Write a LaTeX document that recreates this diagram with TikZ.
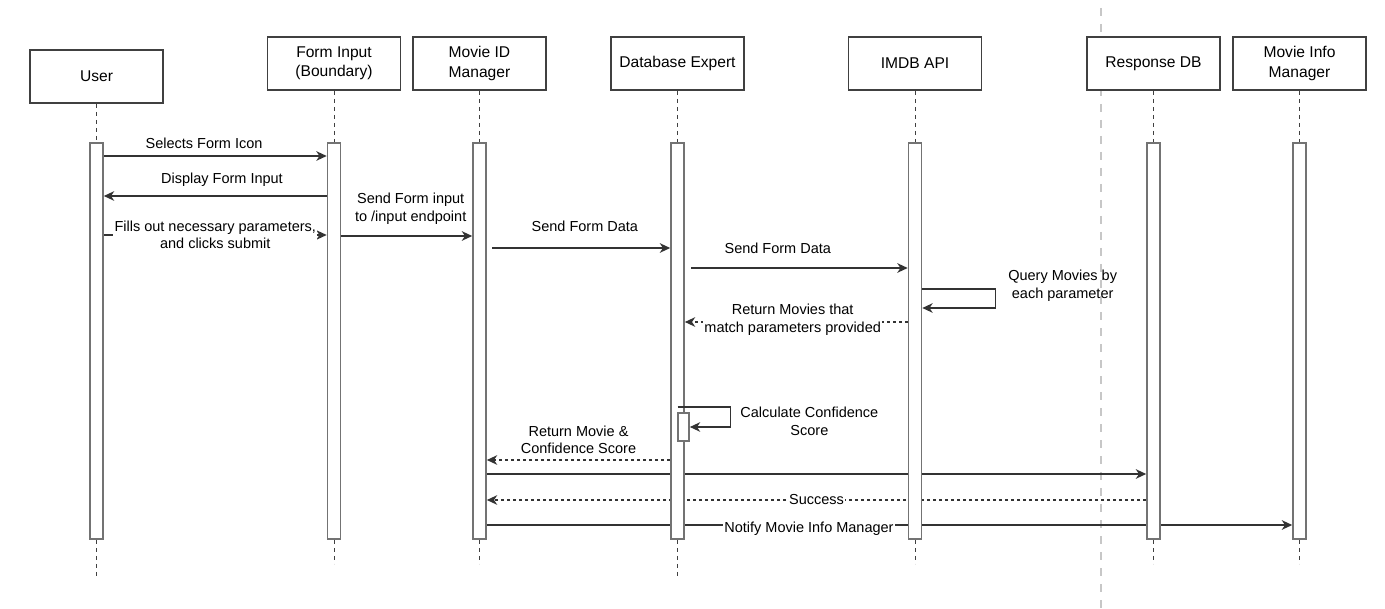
\documentclass[tikz,border=0pt]{standalone}
\usepackage{fontspec}
\setmainfont{Liberation Sans}
\usetikzlibrary{arrows.meta,backgrounds}
\tikzset{>={Stealth[length=5.2pt,width=4.8pt,inset=1.6pt]}}
\tikzset{
  actor/.style={draw=black!75,line width=0.9pt,fill=white,minimum width=66.5pt,
    minimum height=26.5pt,align=center,inner sep=1pt,
    font=\fontsize{7.8}{9.6}\selectfont},
  bar/.style={draw=black!55,line width=0.8pt,fill=white,minimum width=6.5pt,
    minimum height=198pt,inner sep=0pt},
  lifeline/.style={draw=black!75,line width=0.5pt,dash pattern=on 2pt off 2pt},
  call/.style={->,draw=black!80,line width=0.75pt},
  reply/.style={->,draw=black!80,line width=0.75pt,dash pattern=on 1.5pt off 1.5pt},
  msg/.style={font=\fontsize{7.25}{8.8}\selectfont,align=center,inner sep=0.6pt},
  onmsg/.style={msg,fill=white},
  sep line/.style={draw=black!22,line width=0.6pt,dash pattern=on 4pt off 4pt},
}

\begin{document}
\begin{tikzpicture}[x=0.5pt,y=-0.5pt]
\useasboundingbox (0,0) rectangle (1385,609);

% participants
\node [actor] at (96.5,76.5) (user) {User};
\node [actor] at (334,63.5) (form) {Form Input\\(Boundary)};
\node [actor] at (479.5,63.5) (idmgr) {Movie ID\\Manager};
\node [actor] at (677.5,63.5) (dbexp) {Database Expert};
\node [actor] at (915,63.5) (imdb) {IMDB API};
\node [actor] at (1153.5,63.5) (respdb) {Response DB};
\node [actor] at (1299.5,63.5) (infomgr) {Movie Info\\Manager};

% activation bars
\coordinate (barrow) at (0,341);
\node [bar] at (user |- barrow) (userBar) {};
\node [bar] at (form |- barrow) (formBar) {};
\node [bar] at (idmgr |- barrow) (idBar) {};
\node [bar] at (dbexp |- barrow) (dbBar) {};
\node [bar] at (imdb |- barrow) (imdbBar) {};
\node [bar] at (respdb |- barrow) (respBar) {};
\node [bar] at (infomgr |- barrow) (infoBar) {};

% message rows
\coordinate (r1) at (0,156);
\coordinate (r2) at (0,196);
\coordinate (r3) at (0,235);
\coordinate (r4) at (0,236);
\coordinate (r5) at (0,248);
\coordinate (r6) at (0,268);
\coordinate (r7) at (0,289);
\coordinate (r8) at (0,322);
\coordinate (r9) at (0,407);
\coordinate (r10) at (0,460);
\coordinate (r11) at (0,474);
\coordinate (r12) at (0,500);
\coordinate (r13) at (0,525);

\begin{pgfonlayer}{background}
\draw [sep line] (1101,8) -- (1101,609);

\foreach \a/\b in {user/userBar,form/formBar,idmgr/idBar,dbexp/dbBar,imdb/imdbBar,respdb/respBar,infomgr/infoBar}
  \draw [lifeline] (\a.south) -- (\b.north);
\draw [lifeline] (userBar.south) -- ++(0,36);
\draw [lifeline] (formBar.south) -- ++(0,24);
\draw [lifeline] (idBar.south) -- ++(0,24);
\draw [lifeline] (dbBar.south) -- ++(0,39);
\draw [lifeline] (imdbBar.south) -- ++(0,24);
\draw [lifeline] (respBar.south) -- ++(0,24);
\draw [lifeline] (infoBar.south) -- ++(0,24);

\draw [call] (userBar.east |- r1) -- node [msg,pos=0.45,yshift=6.5pt] {Selects Form Icon} (formBar.west |- r1);
\draw [call] (formBar.west |- r2) -- node [msg,pos=0.47,yshift=8pt] {Display Form Input} (userBar.east |- r2);
\draw [call] (userBar.east |- r3) -- node [onmsg] {Fills out necessary parameters,\\and clicks submit} (formBar.west |- r3);
\draw [call] (formBar.east |- r4) -- node [msg,pos=0.53,yshift=13.5pt] {Send Form input\\to /input endpoint} (idBar.west |- r4);
\draw [call] ([xshift=2.8pt]idBar.east |- r5) -- node [msg,pos=0.52,yshift=11pt] {Send Form Data} (dbBar.west |- r5);
\draw [call] ([xshift=3.2pt]dbBar.east |- r6) -- node [msg,pos=0.4,yshift=10pt] {Send Form Data} (imdbBar.west |- r6);
\draw [call] (imdbBar.east |- r7) -- ++(73,0) -- node [msg,anchor=west,xshift=5.5pt,yshift=6.5pt] {Query Movies by\\each parameter} ++(0,19) -- (imdbBar.east |- 0,308);
\draw [reply] (imdbBar.west |- r8) -- node [onmsg,pos=0.516,yshift=1.2pt] {Return Movies that\\match parameters provided} (dbBar.east |- r8);
\draw [reply] (dbBar.west |- r10) -- node [msg,yshift=10pt] {Return Movie \&\\Confidence Score} (idBar.east |- r10);
\draw [call] (idBar.east |- r11) -- (respBar.west |- r11);
\draw [reply] (respBar.west |- r12) -- node [onmsg] {Success} (idBar.east |- r12);
\draw [call] (idBar.east |- r13) -- node [onmsg,pos=0.4,yshift=-2pt] {Notify Movie Info Manager} (infoBar.west |- r13);
\end{pgfonlayer}

% self call on the expert
\node [bar,minimum width=5.5pt,minimum height=14pt] at (683.5,427) (dbBar2) {};
\draw [call] (dbBar.north |- r9) -- ++(53,0) |- node [msg,pos=0.25,anchor=west,xshift=4pt,yshift=-2.2pt] {Calculate Confidence\\Score} (dbBar2.east);
\end{tikzpicture}
\end{document}
